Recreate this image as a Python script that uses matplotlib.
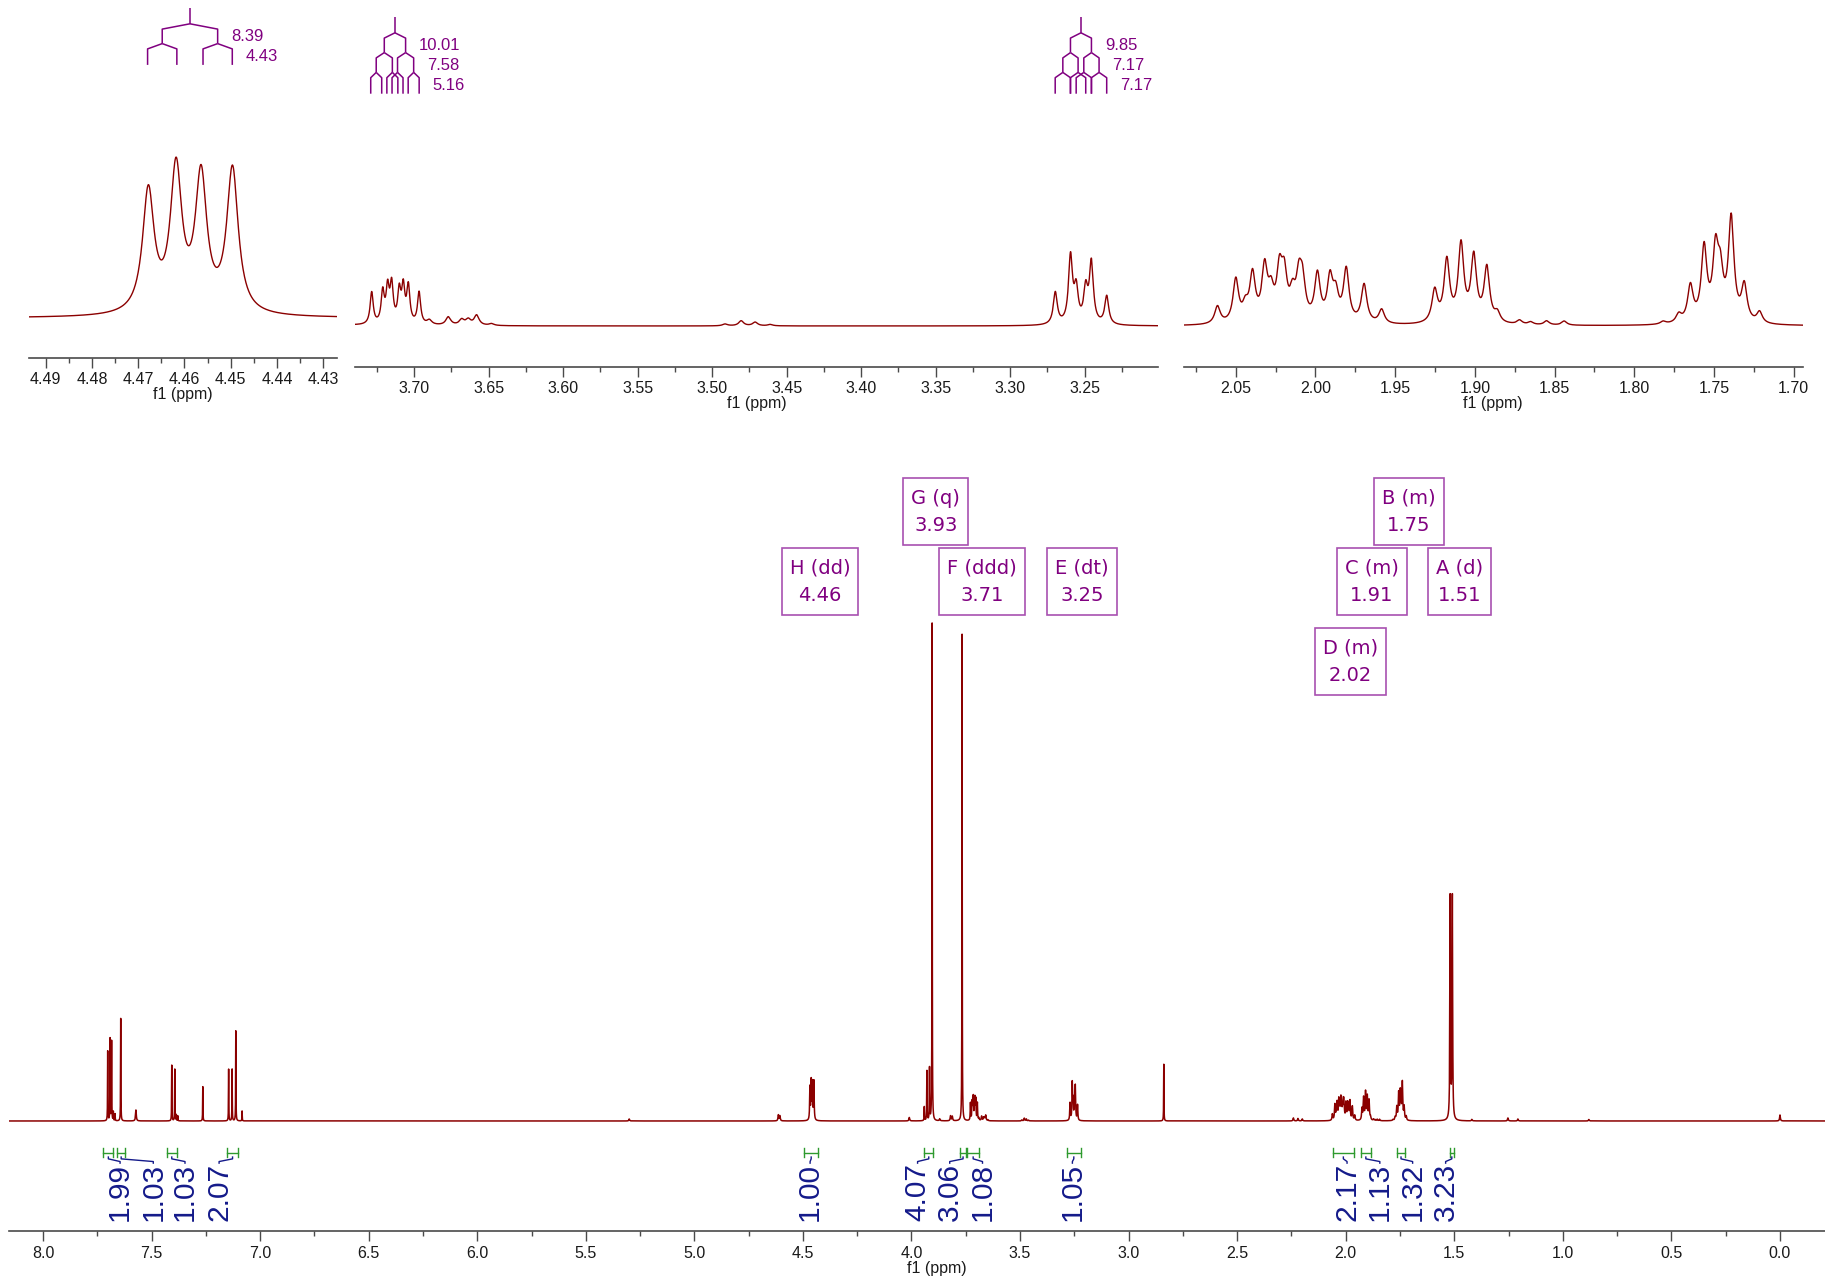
import numpy as np
import matplotlib
matplotlib.use('Agg')
import matplotlib.pyplot as plt
from matplotlib.patches import Rectangle
from matplotlib.ticker import MultipleLocator, FuncFormatter
from matplotlib.transforms import blended_transform_factory

plt.rcParams['font.family'] = ['Liberation Sans', 'DejaVu Sans']

SPEC_MHZ = 700.0

# spectrum lines: position (ppm), height (tallest = 1)
arom_ppm = [7.702, 7.691, 7.684, 7.676, 7.668, 7.642, 7.407, 7.393, 7.386, 7.379,
            7.264, 7.145, 7.129, 7.112, 7.083]
arom_h = [0.140, 0.165, 0.160, 0.018, 0.014, 0.206, 0.112, 0.104, 0.012, 0.010,
          0.069, 0.104, 0.104, 0.181, 0.020]

singlet_ppm = [3.905, 3.767, 2.838]
singlet_h = [1.0, 0.978, 0.114]

h_dd_ppm = [4.4678, 4.4618, 4.4564, 4.4496]
h_dd_h = [0.066, 0.077, 0.073, 0.078]

g_q_ppm = [3.941, 3.929, 3.917]
g_q_h = [0.028, 0.100, 0.105]

f_ddd_ppm = [3.7284, 3.7210, 3.7177, 3.7150, 3.7099, 3.7072, 3.7038, 3.6966]
f_ddd_h = [0.035, 0.034, 0.037, 0.041, 0.034, 0.038, 0.040, 0.035]

e_dt_ppm = [3.2697, 3.2595, 3.2557, 3.2493, 3.2455, 3.2352]
e_dt_h = [0.035, 0.073, 0.036, 0.036, 0.066, 0.031]

d_m_ppm = [2.0615, 2.0500, 2.0440, 2.0395, 2.0319, 2.0279, 2.0226, 2.0196, 2.0144,
           2.0104, 2.0081, 1.9988, 1.9909, 1.9873, 1.9807, 1.9695, 1.9585]
d_m_h = [0.0126, 0.0311, 0.0101, 0.0336, 0.0378, 0.0185, 0.0336, 0.0302, 0.0168,
         0.0277, 0.0252, 0.0336, 0.0302, 0.0185, 0.0378, 0.0277, 0.0101]

c_m_ppm = [1.9252, 1.9176, 1.9087, 1.9007, 1.8925, 1.8859]
c_m_h = [0.0231, 0.0444, 0.0555, 0.0468, 0.0394, 0.0067]

b_m_ppm = [1.7819, 1.7721, 1.7648, 1.7562, 1.7490, 1.7460, 1.7392, 1.7310, 1.7214]
b_m_h = [0.002, 0.006, 0.026, 0.053, 0.048, 0.030, 0.074, 0.026, 0.008]

a_d_ppm = [1.519, 1.509]
a_d_h = [0.447, 0.447]

minor_ppm = [7.572, 5.300, 4.613, 4.606, 4.010, 3.870, 3.820, 3.812, 3.6897, 3.677,
             3.668, 3.6636, 3.658, 3.648, 3.4913, 3.4805, 3.4711, 3.461, 2.241, 2.220,
             2.200, 1.872, 1.865, 1.855, 1.844, 1.419, 1.253, 1.207, 0.880, 0.000]
minor_h = [0.022, 0.004, 0.012, 0.010, 0.007, 0.004, 0.010, 0.009, 0.005, 0.009,
           0.006, 0.006, 0.011, 0.002, 0.002, 0.0055, 0.004, 0.0015, 0.006, 0.005,
           0.004, 0.003, 0.002, 0.003, 0.003, 0.003, 0.006, 0.004, 0.003, 0.012]

# multiplet analysis
mult_name = ['H', 'G', 'F', 'E', 'D', 'C', 'B', 'A']
mult_type = ['dd', 'q', 'ddd', 'dt', 'm', 'm', 'm', 'd']
mult_shift = [4.46, 3.93, 3.71, 3.25, 2.02, 1.91, 1.75, 1.51]

tree_center = [4.4588, 3.7128, 3.2525]
tree_j = [[8.39, 4.43], [10.01, 7.58, 5.16], [9.85, 7.17, 7.17]]

# integrals
int_value = [1.99, 1.03, 1.03, 2.07, 1.00, 4.07, 3.06, 1.08, 1.05, 2.17, 1.13, 1.32, 3.23]
int_start = [7.722, 7.658, 7.430, 7.154, 4.494, 3.942, 3.776, 3.743, 3.285, 2.061,
             1.931, 1.765, 1.522]
int_end = [7.676, 7.622, 7.384, 7.100, 4.430, 3.899, 3.749, 3.689, 3.220, 1.961,
           1.884, 1.726, 1.501]

# label layout (ppm for x, axes fraction for y)
int_label_x = [7.645, 7.492, 7.346, 7.189, 4.467, 3.972, 3.824, 3.673, 3.259, 1.994,
               1.843, 1.692, 1.540]
box_x = [4.421, 3.888, 3.675, 3.215, 1.980, 1.880, 1.710, 1.475]
box_y = [0.8209, 0.9094, 0.8209, 0.8209, 0.7197, 0.8209, 0.9094, 0.8209]


def lorentz(x, ppm, height, width):
    out = np.zeros_like(x)
    for p, h in zip(ppm, height):
        out += h / (1.0 + (2.0 * (x - p) / width) ** 2)
    return out


x = np.arange(-0.45, 8.2, 0.0001)
y = (lorentz(x, arom_ppm, arom_h, 0.0015)
     + lorentz(x, singlet_ppm, singlet_h, 0.0015)
     + lorentz(x, h_dd_ppm, h_dd_h, 0.003)
     + lorentz(x, g_q_ppm, g_q_h, 0.0018)
     + lorentz(x, f_ddd_ppm, f_ddd_h, 0.0025)
     + lorentz(x, e_dt_ppm, e_dt_h, 0.0032)
     + lorentz(x, d_m_ppm, d_m_h, 0.0042)
     + lorentz(x, c_m_ppm, c_m_h, 0.0042)
     + lorentz(x, b_m_ppm, b_m_h, 0.0042)
     + lorentz(x, a_d_ppm, a_d_h, 0.003)
     + lorentz(x, minor_ppm, minor_h, 0.004))

W, H = 1825, 1280
fig = plt.figure(figsize=(W / 100, H / 100), dpi=100)

INK = '#8b0000'
PURPLE = '#800080'
BOXEDGE = '#a850b0'
GREEN = '#2e9a2e'
NAVY = '#141a8a'
AXIS = '#4a4a4a'


def add_ax(left, right, top, bottom):
    return fig.add_axes([left / W, 1 - bottom / H, (right - left) / W, (bottom - top) / H])


def style_axis(ax, major, minor, fmt, major_len):
    for s in ('left', 'right', 'top'):
        ax.spines[s].set_visible(False)
    ax.spines['bottom'].set_color(AXIS)
    ax.spines['bottom'].set_linewidth(1.2)
    ax.set_yticks([])
    ax.xaxis.set_major_locator(MultipleLocator(major))
    ax.xaxis.set_minor_locator(MultipleLocator(minor))
    ax.xaxis.set_major_formatter(FuncFormatter(lambda v, _: f"{round(v, 3) + 0.0:{fmt}}"))
    ax.tick_params(axis='x', which='major', direction='out', length=major_len, width=1.0,
                   color=AXIS, labelsize=11.5, pad=3.5, labelcolor='#1a1a1a')
    ax.tick_params(axis='x', which='minor', direction='out', length=major_len / 2,
                   width=1.0, color=AXIS)
    ax.patch.set_alpha(0)
    ax.annotate('f1 (ppm)', xy=(0.5, 0), xycoords='axes fraction', xytext=(0, -29.5),
                textcoords='offset pixels', ha='center', va='top', fontsize=11.5,
                color='#1a1a1a')


def fit_ylim(ax, xl, xr, f_base, f_top):
    m = y[(x <= xl) & (x >= xr)].max()
    span = m / (f_top - f_base)
    ax.set_ylim(-f_base * span, (1 - f_base) * span)


def draw_tree(ax, center, couplings, hpx):
    tr = blended_transform_factory(ax.transData, ax.transAxes)
    kw = dict(color=PURPLE, lw=1.1, transform=tr, clip_on=False, solid_capstyle='butt')
    top = 349.4
    ax.plot([center, center], [top / hpx, (top - 15.5) / hpx], **kw)
    yy = top - 15.5
    xs = [center]
    for i, j in enumerate(couplings):
        d = j / SPEC_MHZ / 2
        seg = 16.0 if i == len(couplings) - 1 else 14.5
        new = []
        for xp in xs:
            for s in (-1, 1):
                xc = xp + s * d
                ax.plot([xp, xc, xc], [yy / hpx, (yy - 5.3) / hpx, (yy - 5.3 - seg) / hpx], **kw)
                new.append(xc)
        ax.annotate(f"{j:.2f}", xy=(min(new), (yy - 5.3 - seg / 2) / hpx), xycoords=tr,
                    xytext=(13.5, 0), textcoords='offset pixels', ha='left', va='center',
                    fontsize=12, color=PURPLE)
        xs = new
        yy = yy - 5.3 - seg


# ---- top insets
inset_h = 357.7
ax1 = add_ax(29, 337, 0, 357.7)
ax2 = add_ax(355, 1158, 9, 366.7)
ax3 = add_ax(1184, 1802.6, 9, 366.7)
insets = [(ax1, 4.4936, 4.4270, 0.01, 0.005, '.2f', 0.111, 0.561),
          (ax2, 3.7396, 3.2008, 0.05, 0.025, '.2f', 0.1138, 0.3215),
          (ax3, 2.0825, 1.6944, 0.05, 0.025, '.2f', 0.1138, 0.4297)]
for ax, xl, xr, mj, mn, fmt, fb, ft in insets:
    ax.plot(x, y, color=INK, lw=1.0)
    ax.set_xlim(xl, xr)
    fit_ylim(ax, xl, xr, fb, ft)
    style_axis(ax, mj, mn, fmt, 7)

draw_tree(ax1, tree_center[0], tree_j[0], inset_h)
draw_tree(ax2, tree_center[1], tree_j[1], inset_h)
draw_tree(ax2, tree_center[2], tree_j[2], inset_h)

# ---- main spectrum
ax = add_ax(9, 1865, 440, 1231)
ax.plot(x, y, color=INK, lw=1.1)
ax.set_xlim(8.1566, -0.3915)
fit_ylim(ax, 8.1566, -0.3915, 0.1391, 0.7687)
style_axis(ax, 0.5, 0.25, '.1f', 7.5)

tr = blended_transform_factory(ax.transData, ax.transAxes)

box_texts = []
for n, t, s, bx, by in zip(mult_name, mult_type, mult_shift, box_x, box_y):
    box_texts.append(ax.text(bx, by, f"{n} ({t})\n{s:.2f}", transform=tr, ha='center',
                             va='center', fontsize=14, family='DejaVu Sans', color=PURPLE,
                             linespacing=1.52, zorder=4))

yb, dy = 0.0992, 0.0057
for v, a, b, lx in zip(int_value, int_start, int_end, int_label_x):
    bc = (a + b) / 2
    ax.plot([a, b], [yb, yb], color=GREEN, lw=1.0, transform=tr)
    ax.plot([a, a], [yb - dy, yb + dy], color=GREEN, lw=1.0, transform=tr)
    ax.plot([b, b], [yb - dy, yb + dy], color=GREEN, lw=1.0, transform=tr)
    ax.plot([bc, bc, lx, lx], [yb - dy, 0.0912, 0.0878, 0.0858], color=NAVY, lw=1.0,
            transform=tr)
    ax.text(lx, 0.0862, f"{v:.2f}", transform=tr, rotation=90, ha='center', va='top',
            fontsize=21.5, color=NAVY)

# frame each multiplet label: fixed box height, snug sides
fig.canvas.draw()
renderer = fig.canvas.get_renderer()
for t in box_texts:
    bb = t.get_window_extent(renderer)
    cy = (bb.y0 + bb.y1) / 2
    x0, w = bb.x0 - 8, bb.width + 16
    y0, h = cy - 33.5, 67
    ax.add_patch(Rectangle((x0 / W, y0 / H), w / W, h / H, transform=fig.transFigure,
                           fc='white', ec=BOXEDGE, lw=1.2, zorder=3.5, clip_on=False))

fig.savefig('out.png', dpi=100)
